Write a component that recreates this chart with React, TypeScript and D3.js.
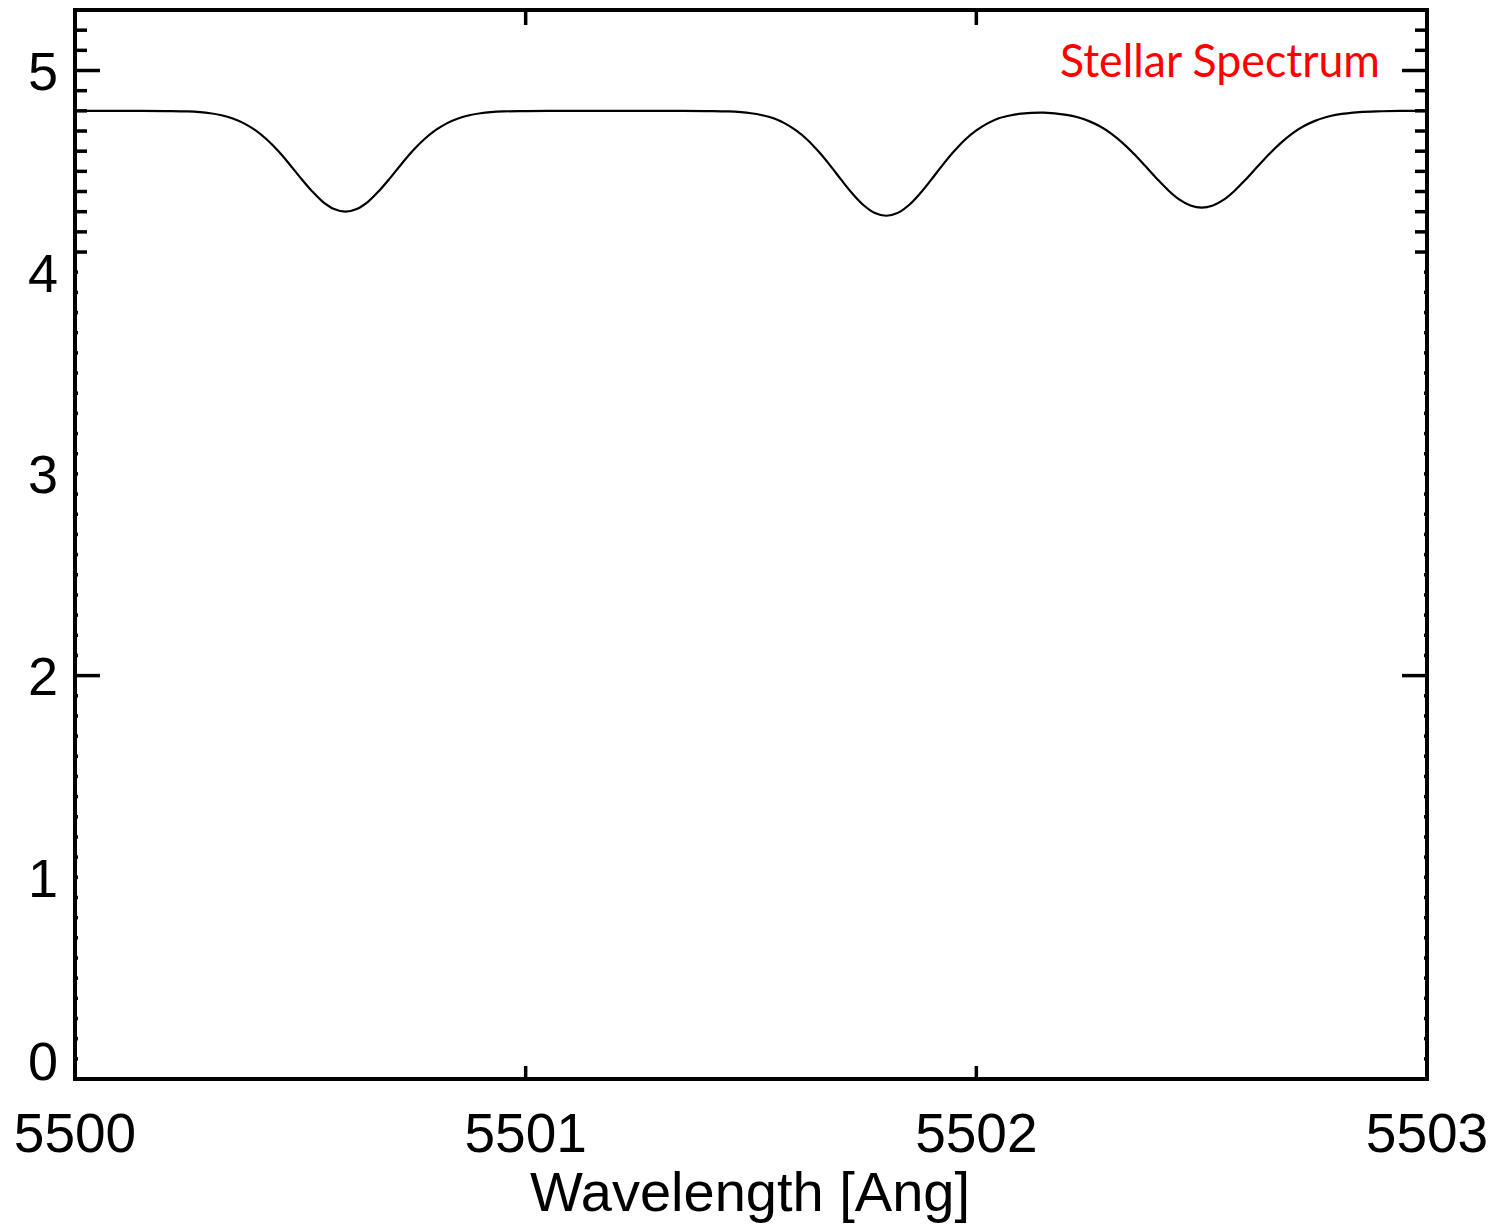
import React from "react";
import * as d3 from "d3";

const wavelengths: number[] = [
  5500.0, 5500.05, 5500.1, 5500.15, 5500.2, 5500.25, 5500.3, 5500.325, 5500.35, 5500.375,
  5500.4, 5500.425, 5500.45, 5500.475, 5500.5, 5500.525, 5500.55, 5500.575, 5500.6, 5500.625,
  5500.65, 5500.675, 5500.7, 5500.725, 5500.75, 5500.775, 5500.8, 5500.825, 5500.85, 5500.875,
  5500.9, 5500.95, 5501.0, 5501.05, 5501.1, 5501.15, 5501.2, 5501.25, 5501.3, 5501.35,
  5501.4, 5501.45, 5501.5, 5501.525, 5501.55, 5501.575, 5501.6, 5501.625, 5501.65, 5501.675,
  5501.7, 5501.725, 5501.75, 5501.775, 5501.8, 5501.825, 5501.85, 5501.875, 5501.9, 5501.925,
  5501.95, 5501.975, 5502.0, 5502.025, 5502.05, 5502.075, 5502.1, 5502.15, 5502.2, 5502.225,
  5502.25, 5502.275, 5502.3, 5502.325, 5502.35, 5502.375, 5502.4, 5502.425, 5502.45, 5502.475,
  5502.5, 5502.525, 5502.55, 5502.575, 5502.6, 5502.625, 5502.65, 5502.675, 5502.7, 5502.725,
  5502.75, 5502.775, 5502.8, 5502.85, 5502.9, 5502.95, 5503.0,
];

const flux: number[] = [
  4.8, 4.8, 4.8, 4.8, 4.799, 4.797, 4.788, 4.778, 4.762, 4.738,
  4.704, 4.659, 4.603, 4.538, 4.469, 4.404, 4.349, 4.313, 4.3, 4.313,
  4.349, 4.404, 4.469, 4.538, 4.603, 4.659, 4.704, 4.738, 4.762, 4.778,
  4.788, 4.797, 4.799, 4.8, 4.8, 4.8, 4.8, 4.8, 4.8, 4.8,
  4.799, 4.797, 4.788, 4.778, 4.763, 4.738, 4.703, 4.657, 4.598, 4.531,
  4.459, 4.39, 4.332, 4.293, 4.28, 4.293, 4.332, 4.39, 4.459, 4.531,
  4.598, 4.657, 4.703, 4.738, 4.763, 4.777, 4.786, 4.791, 4.78, 4.768,
  4.749, 4.722, 4.686, 4.64, 4.586, 4.526, 4.465, 4.408, 4.361, 4.331,
  4.32, 4.331, 4.361, 4.408, 4.465, 4.526, 4.586, 4.64, 4.686, 4.722,
  4.749, 4.768, 4.781, 4.794, 4.798, 4.8, 4.8,
];

const xTicks: number[] = [5500, 5501, 5502, 5503];
const yTicks: number[] = [0, 1, 2, 3, 4, 5];
const xTitle = "Wavelength [Ang]";
const annotation = "Stellar Spectrum";

const W = 1500;
const H = 1226;
const left = 75;
const right = 1427;
const top = 10;
const bottom = 1079;

export default function App() {
  const x = d3.scaleLinear().domain([5500, 5503]).range([left, right]);
  const y = d3.scaleLinear().domain([0, 5.3]).range([bottom, top]);

  const data = wavelengths.map((w, i) => [w, flux[i]] as [number, number]);
  const line = d3
    .line<[number, number]>()
    .x((d) => x(d[0]))
    .y((d) => y(d[1]))
    .curve(d3.curveCatmullRom.alpha(0.5));

  const minorY = d3.range(1, 53).map((i) => i / 10).filter((v) => Math.abs(v - Math.round(v)) > 1e-6);

  const tickFont = "'Liberation Sans', Arial, Helvetica, sans-serif";

  return (
    <svg
      width={W}
      height={H}
      style={{ position: "absolute", left: 0, top: 0, display: "block", background: "#fff" }}
    >
      <rect x={0} y={0} width={W} height={H} fill="#fff" />
      {/* data line */}
      <path d={line(data) || ""} fill="none" stroke="#000" strokeWidth={2.2} />

      {/* y minor ticks */}
      {minorY.map((v) => {
        const len = v > 4.05 ? 12 : 3;
        return (
          <g key={"my" + v}>
            <line x1={left} x2={left + len} y1={y(v)} y2={y(v)} stroke="#000" strokeWidth={3.5} />
            <line x1={right} x2={right - len} y1={y(v)} y2={y(v)} stroke="#000" strokeWidth={3.5} />
          </g>
        );
      })}
      {/* y major ticks */}
      {yTicks.map((v) => {
        const len = v === 5 || v === 2 ? 25 : 3;
        return (
          <g key={"y" + v}>
            <line x1={left} x2={left + len} y1={y(v)} y2={y(v)} stroke="#000" strokeWidth={3.5} />
            <line x1={right} x2={right - len} y1={y(v)} y2={y(v)} stroke="#000" strokeWidth={3.5} />
            <text
              x={58}
              y={v === 0 ? y(v) - 18 : y(v)}
              dy="0.36em"
              textAnchor="end"
              fontFamily={tickFont}
              fontSize={54}
              fill="#000"
            >
              {v}
            </text>
          </g>
        );
      })}
      {/* x ticks */}
      {xTicks.map((v) => (
        <g key={"x" + v}>
          {v !== 5500 && v !== 5503 && (
            <>
              <line x1={x(v)} x2={x(v)} y1={bottom} y2={bottom - 13} stroke="#000" strokeWidth={3.5} />
              <line x1={x(v)} x2={x(v)} y1={top} y2={top + 15} stroke="#000" strokeWidth={3.5} />
            </>
          )}
          <text
            x={x(v)}
            y={1152}
            textAnchor="middle"
            fontFamily={tickFont}
            fontSize={55}
            fill="#000"
          >
            {v}
          </text>
        </g>
      ))}

      {/* frame */}
      <rect
        x={left}
        y={top}
        width={right - left}
        height={bottom - top}
        fill="none"
        stroke="#000"
        strokeWidth={4}
      />

      {/* axis title */}
      <text
        x={750}
        y={1211}
        textAnchor="middle"
        fontFamily={tickFont}
        fontSize={56}
        fill="#000"
      >
        {xTitle}
      </text>

      {/* annotation */}
      <text
        x={1060}
        y={77}
        fontFamily="Lato, 'Open Sans', sans-serif"
        fontSize={46}
        fill="#ff0000"
        textLength={320}
        lengthAdjust="spacingAndGlyphs"
      >
        {annotation}
      </text>
    </svg>
  );
}
